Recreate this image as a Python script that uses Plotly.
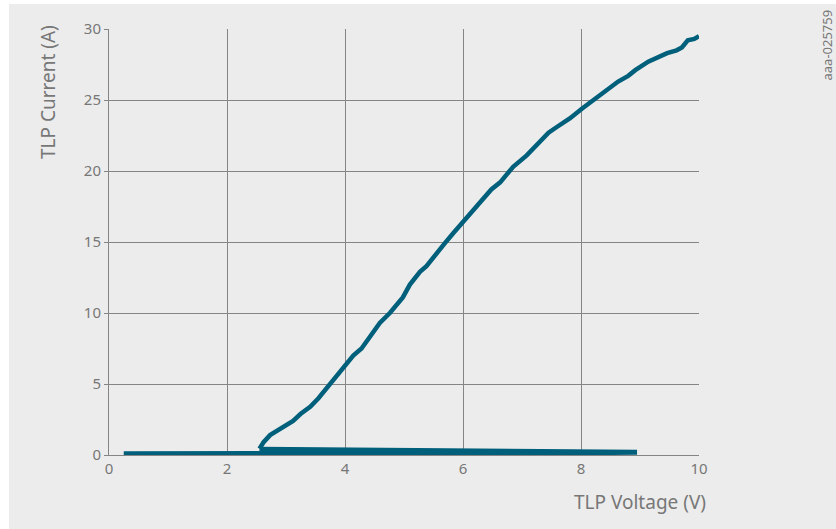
import plotly.graph_objects as go

# Off-state / trigger part (forward sweep up to trigger, then snapback to holding point)
v_off = [0.25, 1.0, 2.0, 3.0, 4.0, 5.0, 6.0, 7.0, 8.0, 8.95, 8.0, 7.0, 6.0, 5.0, 4.0, 3.0, 2.55]
i_off = [0.08, 0.08, 0.08, 0.09, 0.10, 0.11, 0.12, 0.14, 0.16, 0.19, 0.22, 0.25, 0.28, 0.30, 0.33, 0.36, 0.40]

# On-state part after snapback
v_on = [2.55, 2.62, 2.73, 2.85, 2.95, 3.04, 3.12, 3.25, 3.41, 3.55, 3.69, 3.8, 3.9, 4.0, 4.07, 4.14,
        4.28, 4.42, 4.50, 4.59, 4.76, 4.88, 4.98, 5.10, 5.18, 5.27, 5.38, 5.49, 5.60, 5.69, 5.83,
        6.0, 6.15, 6.32, 6.48, 6.63, 6.85, 7.08, 7.20, 7.34, 7.45, 7.59, 7.70, 7.81, 8.02, 8.15,
        8.32, 8.47, 8.63, 8.80, 8.92, 9.14, 9.30, 9.46, 9.62, 9.71, 9.81, 9.92, 10.0]
i_on = [0.45, 0.9, 1.4, 1.7, 2.0, 2.2, 2.4, 2.9, 3.4, 4.0, 4.7, 5.3, 5.7, 6.2, 6.6, 7.0,
        7.5, 8.3, 8.7, 9.3, 10.0, 10.6, 11.1, 12.0, 12.4, 12.9, 13.3, 13.9, 14.5, 14.9, 15.6,
        16.4, 17.1, 18.0, 18.7, 19.2, 20.3, 21.1, 21.6, 22.2, 22.7, 23.1, 23.4, 23.7, 24.4, 24.8,
        25.3, 25.8, 26.3, 26.7, 27.1, 27.7, 28.0, 28.3, 28.5, 28.7, 29.2, 29.3, 29.5]

x_ticks = [0, 2, 4, 6, 8, 10]
y_ticks = [0, 5, 10, 15, 20, 25, 30]

line_color = "#005f7b"
text_color = "#777777"
grid_color = "#858585"
font_family = "Noto Sans, Open Sans, sans-serif"

fig = go.Figure()
fig.add_trace(go.Scatter(x=v_off, y=i_off, mode="lines",
                         line=dict(color=line_color, width=5), hoverinfo="skip"))
fig.add_trace(go.Scatter(x=v_on, y=i_on, mode="lines",
                         line=dict(color=line_color, width=4.5), hoverinfo="skip"))

fig.update_layout(
    width=836, height=529,
    margin=dict(l=109, r=137, t=29, b=74),
    paper_bgcolor="#ffffff",
    plot_bgcolor="#ececec",
    showlegend=False,
    font=dict(family=font_family, color=text_color, size=15),
    xaxis=dict(range=[0, 10], tickvals=x_ticks, ticktext=[str(t) for t in x_ticks],
               showgrid=True, gridcolor=grid_color, gridwidth=1,
               showline=True, linecolor=grid_color, linewidth=1,
               zeroline=False, ticks="", ticklen=0, fixedrange=True,
               tickfont=dict(size=15, color=text_color)),
    yaxis=dict(range=[0, 30], tickvals=y_ticks, ticktext=[str(t) for t in y_ticks],
               showgrid=True, gridcolor=grid_color, gridwidth=1,
               showline=True, linecolor=grid_color, linewidth=1,
               zeroline=False, ticks="outside", ticklen=4, tickcolor=grid_color,
               fixedrange=True, tickfont=dict(size=15, color=text_color)),
    shapes=[dict(type="rect", xref="paper", yref="paper",
                 x0=(9 - 109) / 590, x1=(836 - 109) / 590,
                 y0=(455 - 529) / 426, y1=(455 - 4) / 426,
                 fillcolor="#ececec", line=dict(width=0), layer="below")],
    annotations=[
        dict(text="TLP Current (A)", xref="paper", yref="paper",
             x=(48 - 109) / 590, y=(455 - 23) / 426, xanchor="center", yanchor="top",
             textangle=-90, showarrow=False, font=dict(size=19, color=text_color)),
        dict(text="TLP Voltage (V)", xref="paper", yref="paper",
             x=(708 - 109) / 590, y=(455 - 502) / 426, xanchor="right", yanchor="middle",
             showarrow=False, font=dict(size=19, color=text_color)),
        dict(text="aaa-025759", xref="paper", yref="paper",
             x=(826 - 109) / 590, y=(455 - 8) / 426, xanchor="center", yanchor="top",
             textangle=-90, showarrow=False, font=dict(size=13, color=text_color)),
    ],
)

fig.write_html("out.html")
